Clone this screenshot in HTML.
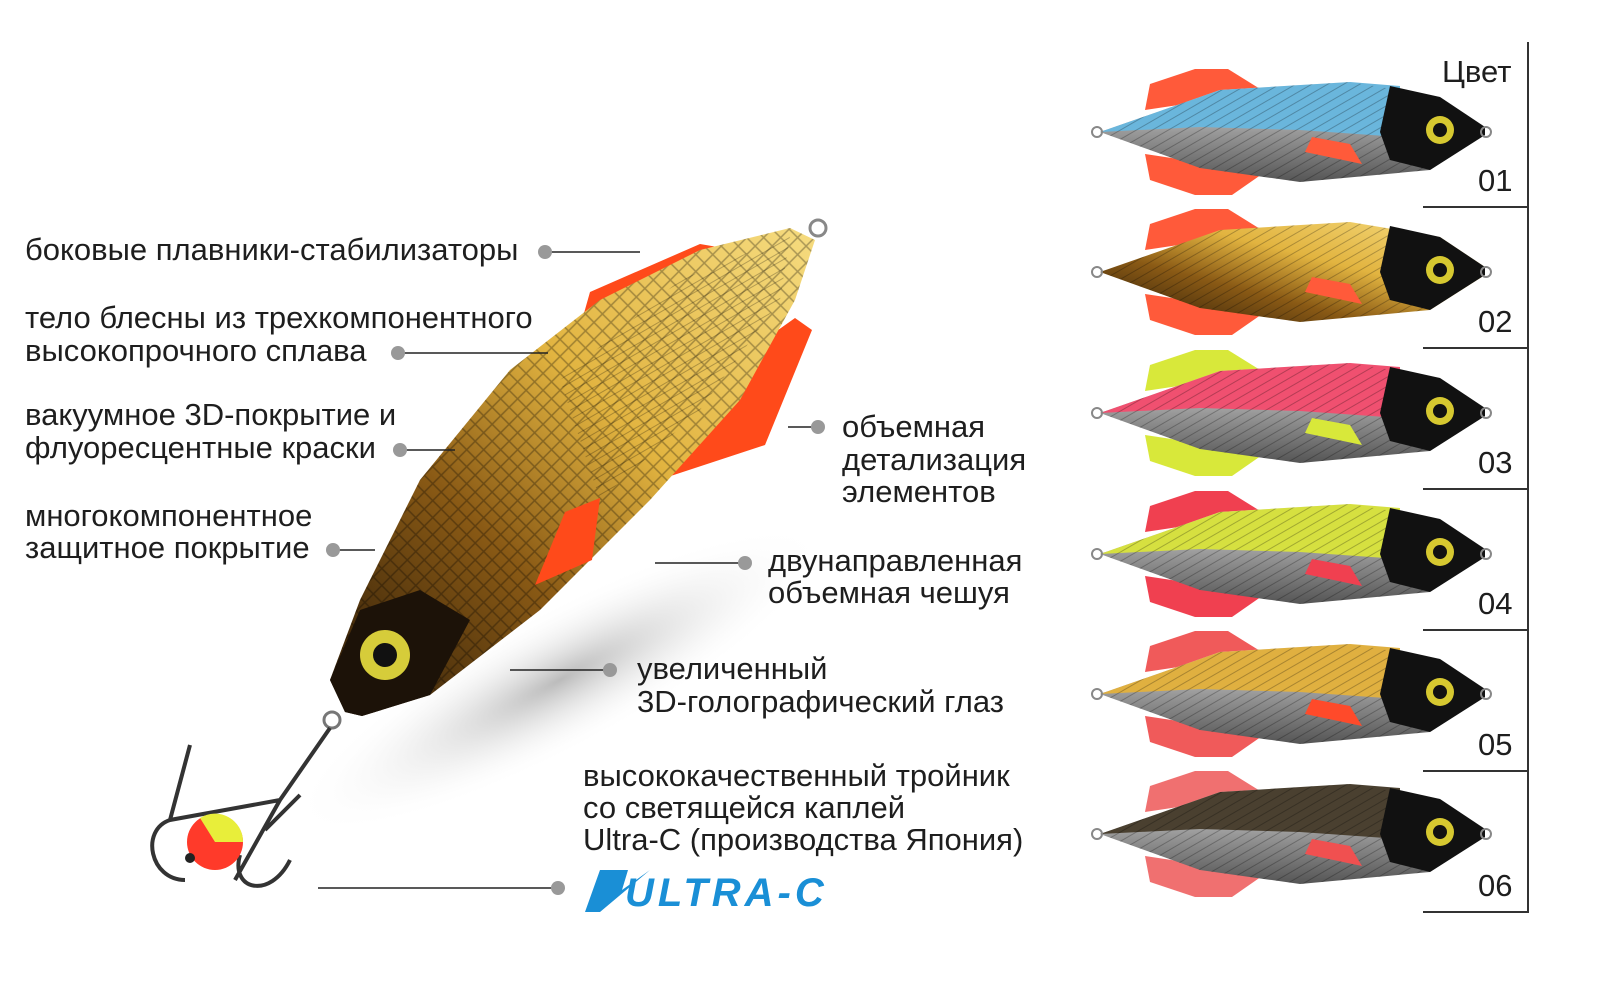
<!DOCTYPE html>
<html><head><meta charset="utf-8"><style>
html,body{margin:0;padding:0;background:#fff;}
body{width:1600px;height:982px;overflow:hidden;position:relative;}
svg{position:absolute;left:0;top:0;}
text{font-family:"Liberation Sans",sans-serif;fill:#1e1e1e;font-size:31px;}
</style></head><body>
<svg width="1600" height="982" viewBox="0 0 1600 982">
<defs>
<linearGradient id="gold" x1="0" y1="1" x2="1" y2="0">
<stop offset="0" stop-color="#2a1a08"/><stop offset="0.35" stop-color="#8a5a15"/><stop offset="0.6" stop-color="#e2b440"/><stop offset="1" stop-color="#f6dc80"/></linearGradient>
<radialGradient id="shadow" cx="0.5" cy="0.5" r="0.5"><stop offset="0" stop-color="#bbb"/><stop offset="1" stop-color="#fff" stop-opacity="0"/></radialGradient>
<pattern id="scale" width="12" height="12" patternUnits="userSpaceOnUse" patternTransform="rotate(45)"><rect width="12" height="12" fill="none" stroke="#000" stroke-opacity="0.3" stroke-width="1.5"/></pattern>
<pattern id="stripe" width="8" height="8" patternUnits="userSpaceOnUse" patternTransform="rotate(60)"><line x1="0" y1="0" x2="0" y2="8" stroke="#000" stroke-opacity="0.25" stroke-width="2"/></pattern>
<linearGradient id="silver" x1="0" y1="0" x2="0" y2="1"><stop offset="0" stop-color="#eee"/><stop offset="0.5" stop-color="#999"/><stop offset="1" stop-color="#555"/></linearGradient>
</defs>

<ellipse cx="560" cy="680" rx="300" ry="70" transform="rotate(-28 560 680)" fill="url(#shadow)"/>

<g>
<polygon points="575,345 590,292 700,244 735,250 640,300" fill="#ff4a1a"/>
<polygon points="622,492 680,400 795,318 812,330 765,445" fill="#ff4a1a"/>
<polygon points="345,712 330,680 360,600 420,480 510,370 600,300 700,250 790,228 815,240 795,300 740,400 650,500 540,610 430,695 362,716" fill="url(#gold)"/>
<polygon points="345,712 330,680 360,600 420,480 510,370 600,300 700,250 790,228 815,240 795,300 740,400 650,500 540,610 430,695 362,716" fill="url(#scale)"/>
<polygon points="560,380 680,280 790,236 780,300 700,410 600,500" fill="url(#stripe)"/>
<polygon points="345,712 330,680 360,610 420,590 470,620 430,695 362,716" fill="#1c1208"/>
<polygon points="535,585 565,512 600,498 592,560" fill="#ff4a1a"/>
<circle cx="385" cy="655" r="25" fill="#d6cc3a"/><circle cx="385" cy="655" r="12" fill="#111"/>
<circle cx="818" cy="228" r="8" fill="none" stroke="#888" stroke-width="3"/>
<circle cx="332" cy="720" r="8" fill="none" stroke="#777" stroke-width="3"/>
<path d="M330,728 L280,800 L235,880 M280,800 L170,820 C140,830 150,880 185,880 M265,830 L300,795 M240,855 C230,890 270,900 290,860" fill="none" stroke="#333" stroke-width="4"/>
<path d="M170,820 L190,745" stroke="#333" stroke-width="4"/>
<circle cx="215" cy="842" r="28" fill="#ff3a2a"/><path d="M200,818 A28,28 0 0 1 243,842 L215,842 Z" fill="#e8ee3a"/><circle cx="190" cy="858" r="5" fill="#222"/>
</g>

<g stroke="#222" stroke-width="1.5">
<line x1="545" y1="252" x2="640" y2="252"/>
<line x1="398" y1="353" x2="548" y2="353"/>
<line x1="400" y1="450" x2="455" y2="450"/>
<line x1="333" y1="550" x2="375" y2="550"/>
<line x1="788" y1="427" x2="818" y2="427"/>
<line x1="655" y1="563" x2="745" y2="563"/>
<line x1="510" y1="670" x2="610" y2="670"/>
<line x1="318" y1="888" x2="558" y2="888"/>
</g>
<g fill="#999">
<circle cx="545" cy="252" r="7"/><circle cx="398" cy="353" r="7"/><circle cx="400" cy="450" r="7"/><circle cx="333" cy="550" r="7"/>
<circle cx="818" cy="427" r="7"/><circle cx="745" cy="563" r="7"/><circle cx="610" cy="670" r="7"/><circle cx="558" cy="888" r="7"/>
</g>
<text x="25" y="260">боковые плавники-стабилизаторы</text>
<text x="25" y="328">тело блесны из трехкомпонентного</text>
<text x="25" y="361">высокопрочного сплава</text>
<text x="25" y="425">вакуумное 3D-покрытие и</text>
<text x="25" y="458">флуоресцентные краски</text>
<text x="25" y="526">многокомпонентное</text>
<text x="25" y="558">защитное покрытие</text>
<text x="842" y="437">объемная</text>
<text x="842" y="470">детализация</text>
<text x="842" y="502">элементов</text>
<text x="768" y="571">двунаправленная</text>
<text x="768" y="603">объемная чешуя</text>
<text x="637" y="679">увеличенный</text>
<text x="637" y="712">3D-голографический глаз</text>
<text x="583" y="786">высококачественный тройник</text>
<text x="583" y="818">со светящейся каплей</text>
<text x="583" y="850">Ultra-C (производства Япония)</text>
<polygon points="600,870 628,870 622,890 650,870 600,912 585,912" fill="#1a8fd6"/>
<text x="625" y="906" style="fill:#1a8fd6;font-size:40px;font-weight:bold;font-style:italic;letter-spacing:4px">ULTRA-C</text>

<g stroke="#333" stroke-width="2">
<line x1="1528" y1="42" x2="1528" y2="913"/>
<line x1="1423" y1="207" x2="1528" y2="207"/><line x1="1423" y1="348" x2="1528" y2="348"/>
<line x1="1423" y1="489" x2="1528" y2="489"/><line x1="1423" y1="630" x2="1528" y2="630"/>
<line x1="1423" y1="771" x2="1528" y2="771"/><line x1="1423" y1="912" x2="1528" y2="912"/>
</g>
<text x="1442" y="82">Цвет</text>
<text x="1478" y="191">01</text><text x="1478" y="332">02</text><text x="1478" y="473">03</text>
<text x="1478" y="614">04</text><text x="1478" y="755">05</text><text x="1478" y="896">06</text>

<g transform="translate(1100,132)">
<polygon points="45,-22 50,-48 95,-63 128,-63 165,-40" fill="#ff5a3a"/>
<polygon points="45,22 50,48 95,63 132,63 165,40" fill="#ff5a3a"/>
<polygon points="0,0 120,-42 250,-50 340,-35 385,-5 385,3 330,38 200,50 100,36" fill="url(#silver)"/>
<polygon points="0,0 120,-42 250,-50 300,-46 300,5 200,-2 100,-5" fill="#6ab6dc"/>
<polygon points="0,0 120,-42 250,-50 340,-35 385,-5 385,3 330,38 200,50 100,36" fill="url(#stripe)"/>
<polygon points="290,-46 340,-35 385,-5 385,3 330,38 290,28 280,0" fill="#111"/>
<polygon points="205,20 212,5 250,12 262,32" fill="#ff5a3a"/>
<circle cx="340" cy="-2" r="14" fill="#d6c830"/><circle cx="340" cy="-2" r="7" fill="#111"/>
<circle cx="-3" cy="0" r="5" fill="none" stroke="#888" stroke-width="2"/><circle cx="386" cy="0" r="5" fill="none" stroke="#888" stroke-width="2"/>
</g>
<g transform="translate(1100,272)">
<polygon points="45,-22 50,-48 95,-63 128,-63 165,-40" fill="#ff5a3a"/><polygon points="45,22 50,48 95,63 132,63 165,40" fill="#ff5a3a"/>
<polygon points="0,0 120,-42 250,-50 340,-35 385,-5 385,3 330,38 200,50 100,36" fill="url(#gold)"/>
<polygon points="0,0 120,-42 250,-50 340,-35 385,-5 385,3 330,38 200,50 100,36" fill="url(#stripe)"/>
<polygon points="290,-46 340,-35 385,-5 385,3 330,38 290,28 280,0" fill="#111"/>
<polygon points="205,20 212,5 250,12 262,32" fill="#ff5a3a"/>
<circle cx="340" cy="-2" r="14" fill="#d6c830"/><circle cx="340" cy="-2" r="7" fill="#111"/>
<circle cx="-3" cy="0" r="5" fill="none" stroke="#888" stroke-width="2"/><circle cx="386" cy="0" r="5" fill="none" stroke="#888" stroke-width="2"/>
</g>
<g transform="translate(1100,413)">
<polygon points="45,-22 50,-48 95,-63 128,-63 165,-40" fill="#d8e83a"/><polygon points="45,22 50,48 95,63 132,63 165,40" fill="#d8e83a"/>
<polygon points="0,0 120,-42 250,-50 340,-35 385,-5 385,3 330,38 200,50 100,36" fill="url(#silver)"/>
<polygon points="0,0 120,-42 250,-50 300,-46 300,5 200,-2 100,-5" fill="#f05070"/>
<polygon points="0,0 120,-42 250,-50 340,-35 385,-5 385,3 330,38 200,50 100,36" fill="url(#stripe)"/>
<polygon points="290,-46 340,-35 385,-5 385,3 330,38 290,28 280,0" fill="#111"/>
<polygon points="205,20 212,5 250,12 262,32" fill="#d8e83a"/>
<circle cx="340" cy="-2" r="14" fill="#d6c830"/><circle cx="340" cy="-2" r="7" fill="#111"/>
<circle cx="-3" cy="0" r="5" fill="none" stroke="#888" stroke-width="2"/><circle cx="386" cy="0" r="5" fill="none" stroke="#888" stroke-width="2"/>
</g>
<g transform="translate(1100,554)">
<polygon points="45,-22 50,-48 95,-63 128,-63 165,-40" fill="#f04050"/><polygon points="45,22 50,48 95,63 132,63 165,40" fill="#f04050"/>
<polygon points="0,0 120,-42 250,-50 340,-35 385,-5 385,3 330,38 200,50 100,36" fill="url(#silver)"/>
<polygon points="0,0 120,-42 250,-50 300,-46 300,5 200,-2 100,-5" fill="#d6e040"/>
<polygon points="0,0 120,-42 250,-50 340,-35 385,-5 385,3 330,38 200,50 100,36" fill="url(#stripe)"/>
<polygon points="290,-46 340,-35 385,-5 385,3 330,38 290,28 280,0" fill="#111"/>
<polygon points="205,20 212,5 250,12 262,32" fill="#f04050"/>
<circle cx="340" cy="-2" r="14" fill="#d6c830"/><circle cx="340" cy="-2" r="7" fill="#111"/>
<circle cx="-3" cy="0" r="5" fill="none" stroke="#888" stroke-width="2"/><circle cx="386" cy="0" r="5" fill="none" stroke="#888" stroke-width="2"/>
</g>
<g transform="translate(1100,694)">
<polygon points="45,-22 50,-48 95,-63 128,-63 165,-40" fill="#f05a5a"/><polygon points="45,22 50,48 95,63 132,63 165,40" fill="#f05a5a"/>
<polygon points="0,0 120,-42 250,-50 340,-35 385,-5 385,3 330,38 200,50 100,36" fill="url(#silver)"/>
<polygon points="0,0 120,-42 250,-50 300,-46 300,5 200,-2 100,-5" fill="#e0b040"/>
<polygon points="0,0 120,-42 250,-50 340,-35 385,-5 385,3 330,38 200,50 100,36" fill="url(#stripe)"/>
<polygon points="290,-46 340,-35 385,-5 385,3 330,38 290,28 280,0" fill="#111"/>
<polygon points="205,20 212,5 250,12 262,32" fill="#ff4a2a"/>
<circle cx="340" cy="-2" r="14" fill="#d6c830"/><circle cx="340" cy="-2" r="7" fill="#111"/>
<circle cx="-3" cy="0" r="5" fill="none" stroke="#888" stroke-width="2"/><circle cx="386" cy="0" r="5" fill="none" stroke="#888" stroke-width="2"/>
</g>
<g transform="translate(1100,834)">
<polygon points="45,-22 50,-48 95,-63 128,-63 165,-40" fill="#f07070"/><polygon points="45,22 50,48 95,63 132,63 165,40" fill="#f07070"/>
<polygon points="0,0 120,-42 250,-50 340,-35 385,-5 385,3 330,38 200,50 100,36" fill="url(#silver)"/>
<polygon points="0,0 120,-42 250,-50 300,-46 300,5 200,-2 100,-5" fill="#4a4030"/>
<polygon points="0,0 120,-42 250,-50 340,-35 385,-5 385,3 330,38 200,50 100,36" fill="url(#stripe)"/>
<polygon points="290,-46 340,-35 385,-5 385,3 330,38 290,28 280,0" fill="#111"/>
<polygon points="205,20 212,5 250,12 262,32" fill="#f05050"/>
<circle cx="340" cy="-2" r="14" fill="#d6c830"/><circle cx="340" cy="-2" r="7" fill="#111"/>
<circle cx="-3" cy="0" r="5" fill="none" stroke="#888" stroke-width="2"/><circle cx="386" cy="0" r="5" fill="none" stroke="#888" stroke-width="2"/>
</g>
</svg>
</body></html>
